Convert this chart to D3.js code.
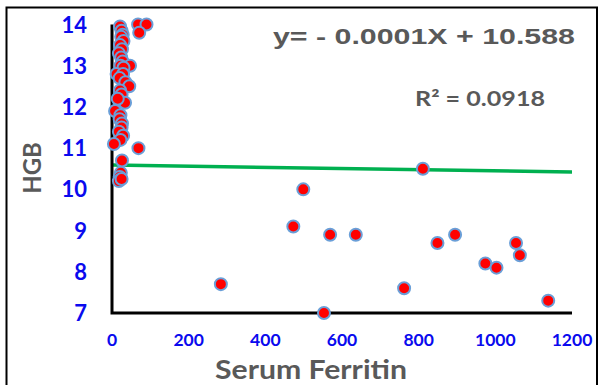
<!DOCTYPE html>
<meta charset="utf-8">
<head>
  <script src="https://d3js.org/d3.v7.min.js"></script>
  <style>
    html, body { margin: 0; padding: 0; background: #fff; }
    svg { display: block; }
  </style>
</head>
<body>
<svg id="chart" width="603" height="385"></svg>
<script>
  // serum ferritin (x) and HGB (y)
  const ferritin = [
    68, 90, 71,
    21, 25, 28, 24, 30, 21, 26, 18, 24, 28, 22, 47, 30, 12, 29, 20, 35, 45,
    21, 25, 34, 15, 8, 22, 20, 26, 25, 18, 29, 22, 5, 69, 26, 23, 20, 18, 25,
    284, 473, 499, 553, 569, 636, 762, 811, 849, 895, 974, 1003, 1054, 1064, 1138
  ]
  const hgb = [
    14.0, 14.0, 13.8,
    13.95, 13.85, 13.75, 13.7, 13.6, 13.5, 13.4, 13.3, 13.2, 13.1, 13.0, 13.0, 12.95, 12.8, 12.8, 12.7, 12.6, 12.5,
    12.4, 12.3, 12.1, 12.2, 11.9, 11.8, 11.7, 11.6, 11.5, 11.4, 11.3, 11.2, 11.1, 11.0, 10.7, 10.4, 10.3, 10.2, 10.25,
    7.7, 9.1, 10.0, 7.0, 8.9, 8.9, 7.6, 10.5, 8.7, 8.9, 8.2, 8.1, 8.7, 8.4, 7.3
  ]
  const xTicks = [0, 200, 400, 600, 800, 1000, 1200]
  const yTicks = [7, 8, 9, 10, 11, 12, 13, 14]
  const trendIntercept = 10.588
  const trendSlope = -0.00014
  const equationText = "y= - 0.0001X + 10.588"
  const r2Text = "R² = 0.0918"

  const svg = d3.select("#chart")

  // outer frame
  svg.append("rect")
    .attr("x", 6.5).attr("y", 7.5)
    .attr("width", 590.5).attr("height", 400)
    .attr("fill", "none").attr("stroke", "#000").attr("stroke-width", 2)

  const x = d3.scaleLinear().domain([0, 1200]).range([112, 572])
  const y = d3.scaleLinear().domain([7, 14]).range([313, 24.5])

  const blue = "#0a0aee"
  const grey = "#595959"

  // y tick labels
  svg.append("g").selectAll("text")
    .data(yTicks)
    .enter().append("text")
    .attr("x", 87)
    .attr("y", d => y(d) + 8)
    .attr("text-anchor", "end")
    .attr("font-family", "Lato")
    .attr("font-weight", "bold")
    .attr("font-size", 22)
    .attr("fill", blue)
    .text(d => d)

  // x tick labels
  svg.append("g").selectAll("text")
    .data(xTicks)
    .enter().append("text")
    .attr("x", d => x(d))
    .attr("y", 346)
    .attr("text-anchor", "middle")
    .attr("font-family", "Lato")
    .attr("font-weight", "bold")
    .attr("font-size", 17.5)
    .attr("fill", blue)
    .text(d => d)

  // axis titles
  svg.append("text")
    .attr("x", 215).attr("y", 379)
    .attr("font-family", "Lato").attr("font-weight", "bold")
    .attr("font-size", 27).attr("fill", grey)
    .attr("textLength", 192).attr("lengthAdjust", "spacingAndGlyphs")
    .text("Serum Ferritin")

  svg.append("text")
    .attr("transform", "translate(41,168) rotate(-90)")
    .attr("text-anchor", "middle")
    .attr("font-family", "Lato").attr("font-weight", "bold")
    .attr("font-size", 24).attr("fill", grey)
    .text("HGB")

  // trend line
  svg.append("line")
    .attr("x1", x(0)).attr("y1", y(trendIntercept))
    .attr("x2", x(1200)).attr("y2", y(trendIntercept + trendSlope * 1200))
    .attr("stroke", "#00b050").attr("stroke-width", 3.5)

  // axis lines
  svg.append("path")
    .attr("d", "M" + x(0) + "," + y(14) + "V" + y(7) + "H" + x(1200))
    .attr("fill", "none").attr("stroke", "#000").attr("stroke-width", 3)

  // points
  svg.append("g").selectAll("circle")
    .data(ferritin.map((f, i) => [f, hgb[i]]))
    .enter().append("circle")
    .attr("cx", d => x(d[0]))
    .attr("cy", d => y(d[1]))
    .attr("r", 6)
    .attr("fill", "#ff0000")
    .attr("stroke", "#6a9fd8")
    .attr("stroke-width", 2)

  // equation and R²
  svg.append("text")
    .attr("x", 273).attr("y", 44)
    .attr("font-family", "Liberation Sans").attr("font-weight", "bold")
    .attr("font-size", 22).attr("fill", grey)
    .attr("textLength", 302).attr("lengthAdjust", "spacingAndGlyphs")
    .text(equationText)

  svg.append("text")
    .attr("x", 415).attr("y", 106)
    .attr("font-family", "Lato").attr("font-weight", "bold")
    .attr("font-size", 21).attr("fill", grey)
    .attr("textLength", 130).attr("lengthAdjust", "spacingAndGlyphs")
    .text(r2Text)
</script>
</body>
